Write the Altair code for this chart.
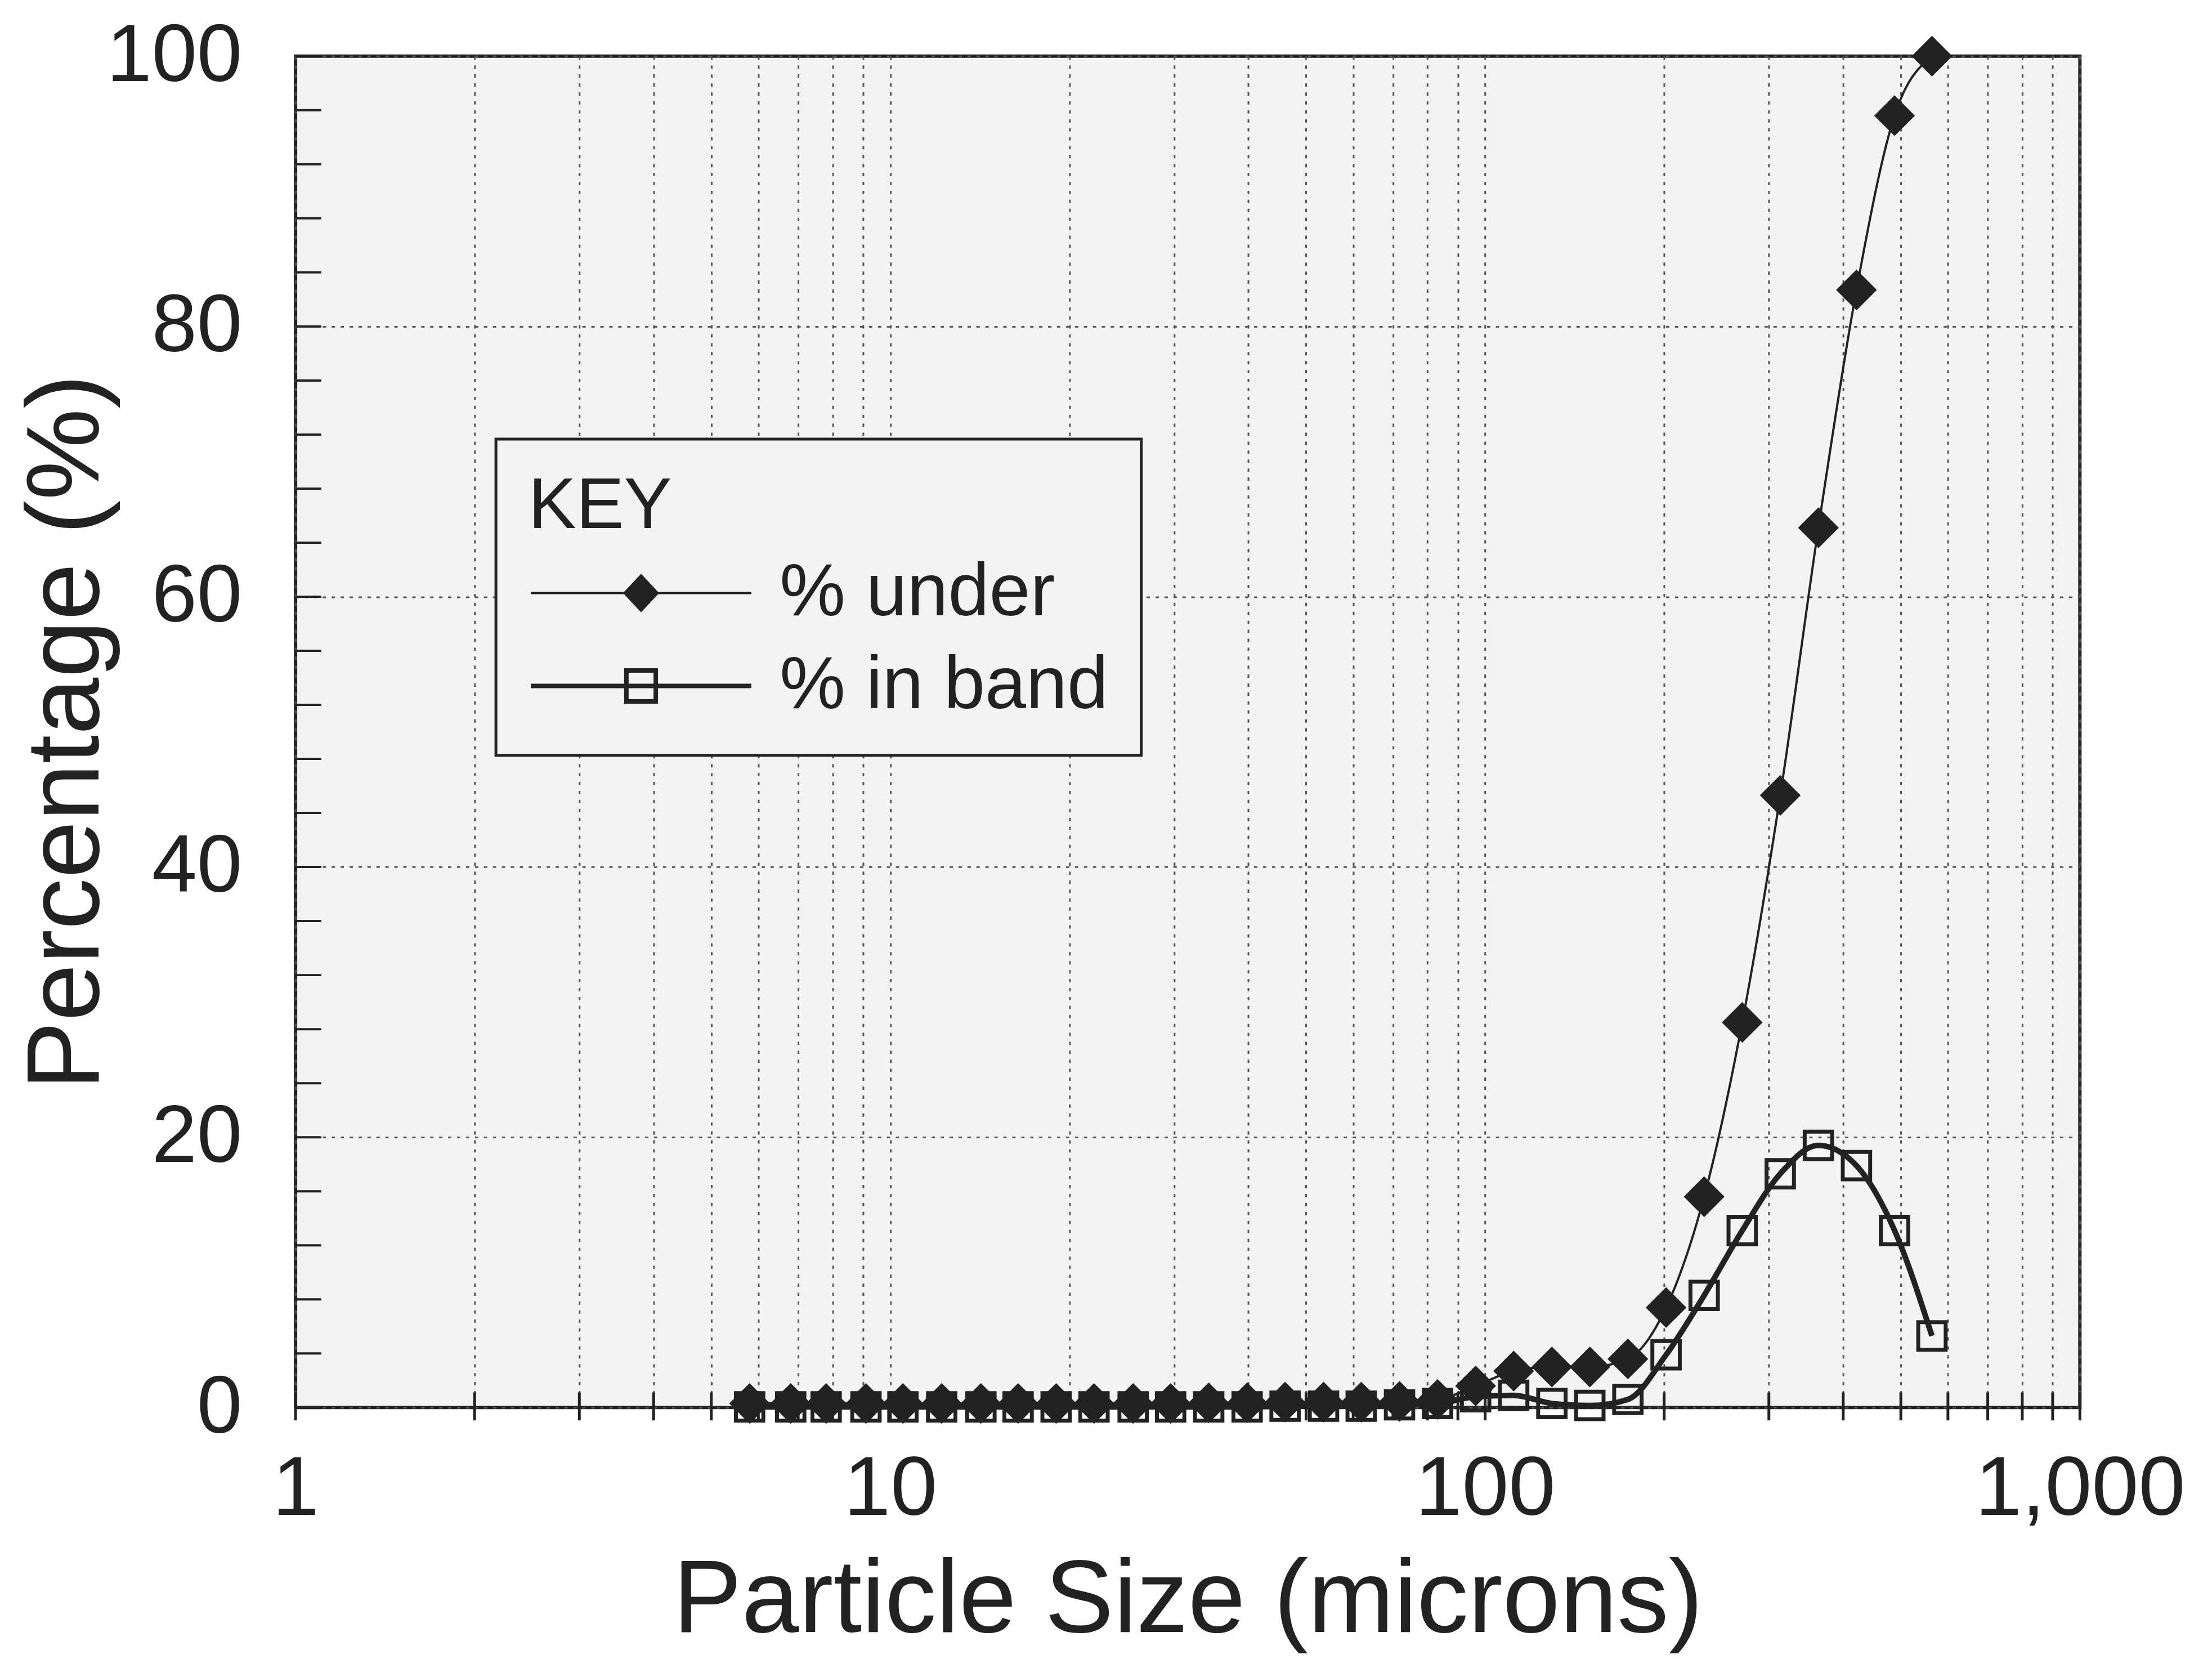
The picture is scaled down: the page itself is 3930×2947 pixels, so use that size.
import altair as alt
import pandas as pd

# ---- data ----
sizes = [5.8, 6.8, 7.8, 9.1, 10.5, 12.2, 14.2, 16.4, 19.0, 22.0, 25.6, 29.6,
         34.3, 39.8, 46.1, 53.5, 61.9, 71.8, 83.2, 96.4, 111.7, 129.5, 150.0,
         173.8, 201.5, 233.5, 270.6, 313.5, 363.4, 421.1, 488.0, 564.0]
pct_under = [0.3, 0.3, 0.3, 0.3, 0.3, 0.3, 0.3, 0.3, 0.3, 0.3, 0.3, 0.3,
             0.35, 0.35, 0.4, 0.4, 0.4, 0.45, 0.6, 1.6, 2.7, 3.0, 3.0,
             3.6, 7.4, 15.6, 28.5, 45.3, 65.1, 82.7, 95.6, 100.0]
pct_band = [0.05, 0.05, 0.05, 0.05, 0.05, 0.05, 0.05, 0.05, 0.05, 0.05, 0.05, 0.05,
            0.05, 0.05, 0.1, 0.1, 0.1, 0.2, 0.3, 0.8, 0.9, 0.3, 0.15,
            0.6, 3.9, 8.3, 13.1, 17.3, 19.4, 17.9, 13.1, 5.3]
series_names = ["% under", "% in band"]

x_tick_values = [1, 2, 3, 4, 5, 6, 7, 8, 9, 10, 20, 30, 40, 50, 60, 70, 80, 90,
                 100, 200, 300, 400, 500, 600, 700, 800, 900, 1000]
x_label_values = [1, 10, 100, 1000]
y_label_values = [0, 20, 40, 60, 80, 100]
y_minor_ticks = [0, 4, 8, 12, 16, 20, 24, 28, 32, 36, 40, 44, 48, 52, 56, 60,
                 64, 68, 72, 76, 80, 84, 88, 92, 96, 100]

# ---- tables ----
df = pd.DataFrame({
    "size": sizes + sizes,
    "value": pct_under + pct_band,
    "series": [series_names[0]] * len(sizes) + [series_names[1]] * len(sizes),
})
xt = pd.DataFrame({"size": x_tick_values})
yt = pd.DataFrame({"value": y_minor_ticks})

W, H = 3188, 2414
INK = "#222222"
BG = "#f3f3f3"
FONT = "Liberation Sans"

label_test = " || ".join(f"datum.value == {v}" for v in x_label_values)
X = alt.X(
    "size:Q",
    scale=alt.Scale(type="log", domain=[1, 1000], nice=False),
    axis=alt.Axis(
        values=x_tick_values,
        labelExpr=f"({label_test}) ? format(datum.value, ',') : ''",
        labelOverlap=False, labelFlush=False, labelLimit=2000,
        title="Particle Size (microns)", titleLimit=4000,
        ticks=False, domain=False, maxExtent=2000,
        grid=True, gridDash=[6, 10], gridColor="#555555", gridWidth=3,
        labelFontSize=150, labelPadding=72, labelColor=INK,
        titleFontSize=184, titleFontWeight="normal", titleColor=INK,
        titlePadding=34,
    ),
)
Y = alt.Y(
    "value:Q",
    scale=alt.Scale(domain=[0, 100], nice=False),
    axis=alt.Axis(
        values=y_label_values,
        title="Percentage (%)", titleLimit=4000,
        ticks=False, domain=False, labelLimit=2000, maxExtent=2000,
        grid=True, gridDash=[6, 10], gridColor="#555555", gridWidth=3,
        labelFontSize=145, labelPadding=96, labelColor=INK,
        titleFontSize=184, titleFontWeight="normal", titleColor=INK,
        titlePadding=-24,
    ),
)

base = alt.Chart(df)
band = base.transform_filter(alt.datum.series == series_names[1])
under = base.transform_filter(alt.datum.series == series_names[0])

band_line = band.mark_line(color=INK, strokeWidth=10, interpolate="monotone").encode(x=X, y=Y)
band_pts = band.mark_point(shape="square", filled=False, color=INK, strokeWidth=7,
                           size=2400, opacity=1).encode(x=X, y=Y)
under_line = under.mark_line(color=INK, strokeWidth=4, interpolate="monotone").encode(x=X, y=Y)
under_pts = under.mark_point(shape="diamond", filled=True, color=INK, size=5300,
                             opacity=1).encode(x=X, y=Y)

# legend symbols: a line with the marker on its middle (unit = half symbol size)
path_under = "M-1,0L5,0M2,-0.48L2.45,0L2,0.48L1.55,0Z"
path_band = "M-1,0L5,0M1.6,-0.42L2.4,-0.42L2.4,0.42L1.6,0.42Z"
leg = alt.Legend(
    title="KEY", orient="none", legendX=358, legendY=684,
    symbolSize=17250, labelFontSize=132, labelColor=INK, labelLimit=3000,
    titleFontSize=128, titleFontWeight="normal", titleColor=INK, titlePadding=21,
    titleLimit=3000,
    padding=58, rowPadding=30, labelOffset=309, symbolOffset=0,
    fillColor=BG, strokeColor=INK, symbolStrokeColor=INK,
)
legend_layer = base.transform_filter("false").mark_point(
    filled=True, stroke=INK, opacity=1
).encode(
    x=X, y=Y,
    shape=alt.Shape("series:N", scale=alt.Scale(domain=series_names, range=[path_under, path_band]), legend=leg),
    fill=alt.Fill("series:N", scale=alt.Scale(domain=series_names, range=[INK, "transparent"]), legend=leg),
    stroke=alt.Stroke("series:N", scale=alt.Scale(domain=series_names, range=[INK, "#222"]), legend=leg),
    strokeWidth=alt.StrokeWidth("series:N", scale=alt.Scale(domain=series_names, range=[4, 8]), legend=leg),
)

x_ticks = alt.Chart(xt).mark_rule(color=INK, strokeWidth=5).encode(
    x=X, y=alt.value(H - 27), y2=alt.value(H + 23))
y_ticks = alt.Chart(yt).mark_rule(color=INK, strokeWidth=4).encode(
    y=Y, x=alt.value(0), x2=alt.value(46))

chart = alt.layer(
    band_line, band_pts, under_line, under_pts, legend_layer, x_ticks, y_ticks
).properties(
    width=W, height=H,
    padding={"left": 20, "top": 12, "right": 40, "bottom": 20},
    background="white",
).configure(
    font=FONT,
).configure_view(
    fill=BG, stroke=INK, strokeWidth=6,
).configure_legend(
    strokeWidth=5,
)

chart.save("out.html", embed_options={"renderer": "svg", "actions": False})
